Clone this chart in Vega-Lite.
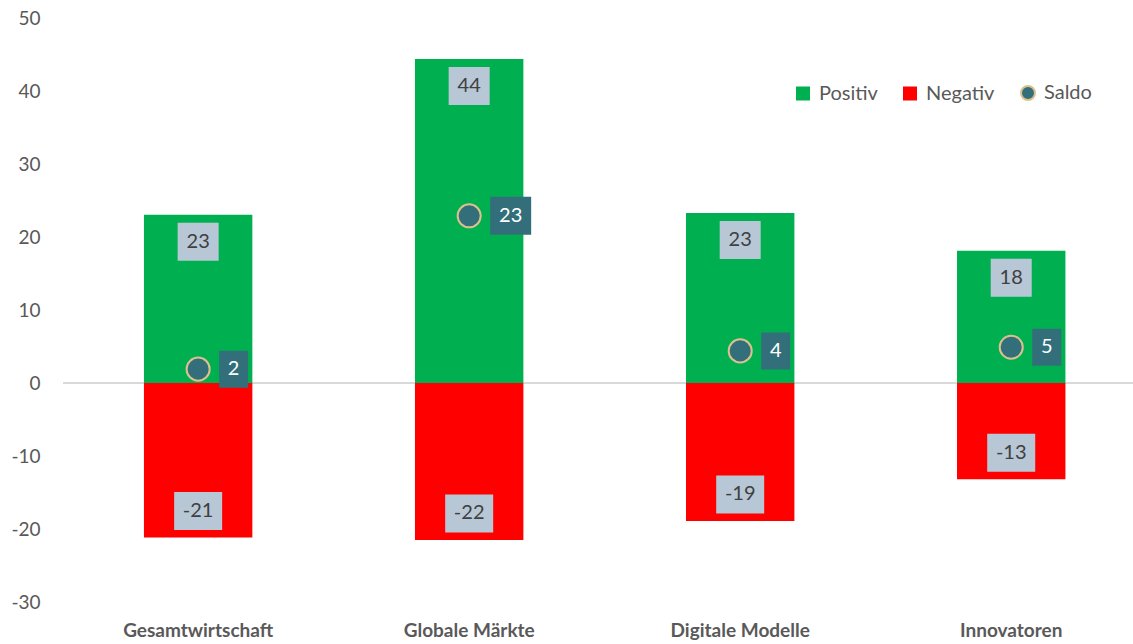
{
  "$schema": "https://vega.github.io/schema/vega-lite/v6.json",
  "width": 1070,
  "height": 584,
  "autosize": {"type": "none"},
  "padding": {"left": 63, "top": 18, "right": 0, "bottom": 42},
  "background": "white",
  "config": {
    "view": {"stroke": null},
    "font": "Lato",
    "locale": {"number": {"decimal": ".", "thousands": ",", "grouping": [3], "currency": ["$", ""], "minus": "-"}}
  },
  "data": {
    "values": [
      {"Kategorie": "Gesamtwirtschaft", "Positiv": 23.05, "Negativ": -21.15, "Saldo": 1.9},
      {"Kategorie": "Globale Märkte", "Positiv": 44.4, "Negativ": -21.5, "Saldo": 22.9},
      {"Kategorie": "Digitale Modelle", "Positiv": 23.3, "Negativ": -18.9, "Saldo": 4.4},
      {"Kategorie": "Innovatoren", "Positiv": 18.1, "Negativ": -13.2, "Saldo": 4.9}
    ]
  },
  "encoding": {
    "x": {
      "field": "Kategorie",
      "type": "nominal",
      "sort": null,
      "scale": {"paddingInner": 0.6, "paddingOuter": 0.274, "align": 0.545},
      "axis": {
        "title": null,
        "labelAngle": 0,
        "domain": false,
        "ticks": false,
        "labelFontSize": 19,
        "labelFontWeight": "bold",
        "labelColor": "#595959",
        "labelPadding": 19
      }
    }
  },
  "layer": [
    {
      "mark": {"type": "rule", "color": "#d9d9d9", "strokeWidth": 2},
      "encoding": {"x": null, "y": {"datum": 0, "type": "quantitative"}}
    },
    {
      "mark": {"type": "bar"},
      "encoding": {
        "y": {
          "field": "Positiv",
          "type": "quantitative",
          "scale": {"domain": [-30, 50], "nice": false, "zero": false},
          "axis": {
            "title": null,
            "values": [-30, -20, -10, 0, 10, 20, 30, 40, 50],
            "labelExpr": "replace(datum.label, '−', '-')",
            "domain": false,
            "ticks": false,
            "grid": false,
            "labelFontSize": 19,
            "labelColor": "#595959",
            "labelPadding": 23
          }
        },
        "y2": {"datum": 0},
        "color": {
          "datum": "Positiv",
          "scale": {"domain": ["Positiv", "Negativ", "Saldo"], "range": ["#00b050", "#ff0000", "#336f7a"]},
          "legend": {
            "title": null,
            "orient": "none",
            "direction": "horizontal",
            "legendX": 730,
            "legendY": 65,
            "columnPadding": 22,
            "labelOffset": 6,
            "symbolSize": 196,
            "labelFontSize": 20,
            "labelColor": "#595959",
            "symbolStrokeWidth": 0,
            "encode": {
              "symbols": {
                "update": {
                  "shape": {"signal": "datum.value === 'Saldo' ? 'circle' : 'square'"},
                  "stroke": {"signal": "datum.value === 'Saldo' ? '#dcc18e' : 'transparent'"},
                  "strokeWidth": {"signal": "datum.value === 'Saldo' ? 2 : 0"}
                }
              }
            }
          }
        }
      }
    },
    {
      "mark": {"type": "bar"},
      "encoding": {
        "y": {"field": "Negativ", "type": "quantitative"},
        "y2": {"datum": 0},
        "color": {"datum": "Negativ"}
      }
    },
    {
      "mark": {"type": "point", "filled": true, "opacity": 1, "fill": "#b7c7d5", "shape": "M-1,-0.927L1,-0.927L1,0.927L-1,0.927Z", "size": 1681, "yOffset": 27},
      "encoding": {"y": {"field": "Positiv", "type": "quantitative"}}
    },
    {
      "mark": {"type": "text", "fontSize": 20, "color": "#404040", "yOffset": 27, "baseline": "middle"},
      "encoding": {"y": {"field": "Positiv", "type": "quantitative"}, "text": {"field": "Positiv", "type": "quantitative", "format": ".0f"}}
    },
    {
      "mark": {"type": "point", "filled": true, "opacity": 1, "fill": "#b7c7d5", "shape": "M-1,-0.792L1,-0.792L1,0.792L-1,0.792Z", "size": 2304, "yOffset": -26.5},
      "encoding": {"y": {"field": "Negativ", "type": "quantitative"}}
    },
    {
      "mark": {"type": "text", "fontSize": 20, "color": "#404040", "yOffset": -26.5, "baseline": "middle"},
      "encoding": {"y": {"field": "Negativ", "type": "quantitative"}, "text": {"field": "Negativ", "type": "quantitative", "format": ".0f"}}
    },
    {
      "mark": {"type": "point", "filled": true, "opacity": 1, "shape": "circle", "size": 531, "stroke": "#dcc18e", "strokeWidth": 2},
      "encoding": {"y": {"field": "Saldo", "type": "quantitative"}, "color": {"datum": "Saldo"}}
    },
    {
      "transform": [{"filter": "datum.Saldo < 9.5"}],
      "mark": {"type": "point", "filled": true, "opacity": 1, "fill": "#336f7a", "shape": "M-0.784,-1L0.784,-1L0.784,1L-0.784,1Z", "size": 1369, "xOffset": 35.5},
      "encoding": {"y": {"field": "Saldo", "type": "quantitative"}}
    },
    {
      "transform": [{"filter": "datum.Saldo >= 9.5"}],
      "mark": {"type": "point", "filled": true, "opacity": 1, "fill": "#336f7a", "shape": "M-1,-0.927L1,-0.927L1,0.927L-1,0.927Z", "size": 1681, "xOffset": 41.5},
      "encoding": {"y": {"field": "Saldo", "type": "quantitative"}}
    },
    {
      "transform": [{"filter": "datum.Saldo < 9.5"}],
      "mark": {"type": "text", "fontSize": 20, "color": "white", "xOffset": 35.5, "baseline": "middle"},
      "encoding": {"y": {"field": "Saldo", "type": "quantitative"}, "text": {"field": "Saldo", "type": "quantitative", "format": ".0f"}}
    },
    {
      "transform": [{"filter": "datum.Saldo >= 9.5"}],
      "mark": {"type": "text", "fontSize": 20, "color": "white", "xOffset": 41.5, "baseline": "middle"},
      "encoding": {"y": {"field": "Saldo", "type": "quantitative"}, "text": {"field": "Saldo", "type": "quantitative", "format": ".0f"}}
    }
  ]
}
